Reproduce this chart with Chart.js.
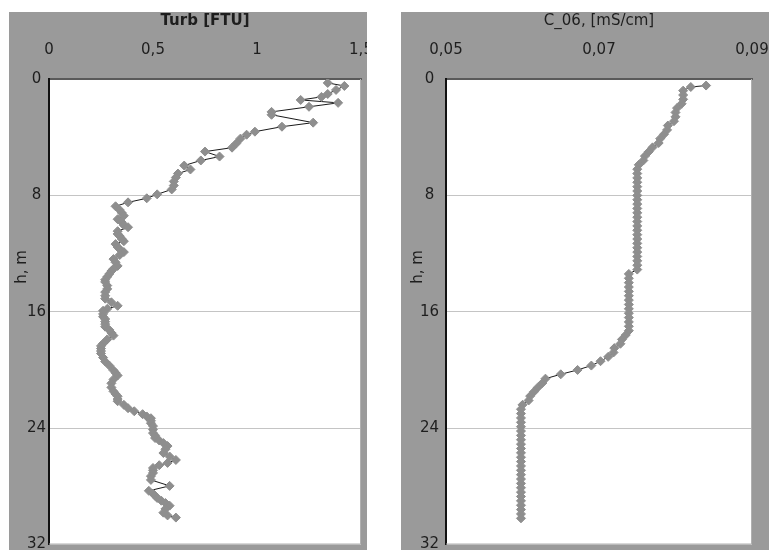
<!DOCTYPE html>
<html>
<head>
<meta charset="utf-8">
<script src="https://cdn.jsdelivr.net/npm/chart.js@4.4.0/dist/chart.umd.min.js"></script>
<style>
    body { margin: 0; background: #ffffff; width: 769px; height: 550px; overflow: hidden; }
    canvas { position: absolute; }
    #turbChart { left: 9px; top: 12px; }
    #condChart { left: 401px; top: 12px; }
</style>
</head>
<body>
<canvas id="turbChart" width="358" height="538"></canvas>
<canvas id="condChart" width="368" height="538"></canvas>
<script>
// ── Data ──────────────────────────────────────────────────────
const depthTicks = [0, 8, 16, 24, 32];
const turbTicks = [0, 0.5, 1, 1.5];
const condTicks = [0.05, 0.07, 0.09];

const turbDepth = [
    0.27, 0.48, 0.75, 1.03, 1.23, 1.44, 1.64, 1.91, 2.26, 2.46,
    3.00, 3.28, 3.62, 3.83, 4.10, 4.44, 4.72, 4.99, 5.33, 5.60,
    5.95, 6.22, 6.50, 6.77, 7.04, 7.32, 7.59, 7.93, 8.20, 8.48,
    8.75, 9.00, 9.20, 9.40, 9.64, 9.85, 10.05, 10.19, 10.46, 10.65,
    10.80, 11.00, 11.15, 11.35, 11.55, 11.69, 11.90, 12.10, 12.38, 12.60,
    12.85, 13.05, 13.20, 13.40, 13.60, 13.80, 13.95, 14.20, 14.43, 14.65,
    14.90, 15.10, 15.35, 15.59, 15.80, 15.93, 16.15, 16.34, 16.50, 16.68,
    16.85, 17.03, 17.25, 17.45, 17.64, 17.90, 18.19, 18.35, 18.53, 18.70,
    18.87, 19.15, 19.42, 19.70, 20.03, 20.20, 20.38, 20.65, 20.92, 21.20,
    21.47, 21.65, 21.81, 22.00, 22.15, 22.40, 22.63, 22.84, 23.04, 23.20,
    23.32, 23.50, 23.66, 23.86, 24.10, 24.34, 24.50, 24.68, 24.85, 25.03,
    25.23, 25.45, 25.71, 25.95, 26.19, 26.39, 26.55, 26.74, 26.90, 27.08,
    27.30, 27.56, 27.97, 28.31, 28.50, 28.65, 28.80, 28.99, 29.15, 29.33,
    29.55, 29.81, 30.00, 30.15
];
const turbValue = [
    1.34, 1.42, 1.38, 1.34, 1.31, 1.21, 1.39, 1.25, 1.07, 1.07,
    1.27, 1.12, 0.99, 0.95, 0.92, 0.90, 0.88, 0.75, 0.82, 0.73,
    0.65, 0.68, 0.62, 0.61, 0.60, 0.60, 0.59, 0.52, 0.47, 0.38,
    0.32, 0.34, 0.35, 0.36, 0.33, 0.35, 0.36, 0.38, 0.33, 0.33,
    0.34, 0.35, 0.36, 0.32, 0.33, 0.34, 0.36, 0.34, 0.31, 0.32,
    0.33, 0.31, 0.30, 0.29, 0.28, 0.27, 0.27, 0.28, 0.28, 0.27,
    0.27, 0.27, 0.30, 0.33, 0.28, 0.26, 0.26, 0.26, 0.27, 0.27,
    0.27, 0.27, 0.29, 0.30, 0.31, 0.28, 0.26, 0.25, 0.25, 0.25,
    0.25, 0.26, 0.27, 0.29, 0.31, 0.32, 0.33, 0.31, 0.30, 0.30,
    0.31, 0.32, 0.33, 0.33, 0.33, 0.36, 0.38, 0.41, 0.45, 0.47,
    0.49, 0.49, 0.49, 0.50, 0.50, 0.50, 0.51, 0.51, 0.53, 0.55,
    0.57, 0.56, 0.55, 0.58, 0.61, 0.57, 0.53, 0.50, 0.50, 0.50,
    0.49, 0.49, 0.58, 0.48, 0.50, 0.51, 0.52, 0.54, 0.56, 0.58,
    0.56, 0.55, 0.57, 0.61
];

const condDepth = [
    0.45, 0.55, 0.8, 1.1, 1.4, 1.7, 2.0, 2.3, 2.6, 2.9,
    3.2, 3.5, 3.8, 4.1, 4.4, 4.7, 5.0, 5.3, 5.6, 5.9,
    6.2, 6.5, 6.8, 7.1, 7.4, 7.7, 8.0, 8.3, 8.6, 8.9,
    9.2, 9.5, 9.8, 10.1, 10.4, 10.7, 11.0, 11.3, 11.6, 11.9,
    12.2, 12.5, 12.8, 13.1, 13.4, 13.7, 14.0, 14.3, 14.6, 14.9,
    15.2, 15.5, 15.8, 16.1, 16.4, 16.7, 17.0, 17.3, 17.6, 17.9,
    18.2, 18.5, 18.8, 19.1, 19.4, 19.7, 20.0, 20.3, 20.6, 20.9,
    21.2, 21.5, 21.8, 22.1, 22.4, 22.7, 23.0, 23.3, 23.6, 23.9,
    24.2, 24.5, 24.8, 25.1, 25.4, 25.7, 26.0, 26.3, 26.6, 26.9,
    27.2, 27.5, 27.8, 28.1, 28.4, 28.7, 29.0, 29.3, 29.6, 29.9,
    30.2
];
const condValue = [
    0.0840, 0.0820, 0.0810, 0.0810, 0.0810, 0.0808, 0.0802, 0.0800, 0.0800, 0.0798,
    0.0790, 0.0789, 0.0785, 0.0780, 0.0778, 0.0770, 0.0765, 0.0760, 0.0758, 0.0752,
    0.0750, 0.0750, 0.0750, 0.0750, 0.0750, 0.0750, 0.0750, 0.0750, 0.0750, 0.0750,
    0.0750, 0.0750, 0.0750, 0.0750, 0.0750, 0.0750, 0.0750, 0.0750, 0.0750, 0.0750,
    0.0750, 0.0750, 0.0750, 0.0750, 0.0739, 0.0739, 0.0739, 0.0739, 0.0739, 0.0739,
    0.0739, 0.0739, 0.0739, 0.0739, 0.0739, 0.0739, 0.0739, 0.0739, 0.0735, 0.0730,
    0.0728, 0.0720, 0.0719, 0.0712, 0.0702, 0.0690, 0.0672, 0.0650, 0.0630, 0.0626,
    0.0620, 0.0615, 0.0610, 0.0608, 0.0600, 0.0598, 0.0598, 0.0598, 0.0598, 0.0598,
    0.0598, 0.0598, 0.0598, 0.0598, 0.0598, 0.0598, 0.0598, 0.0598, 0.0598, 0.0598,
    0.0598, 0.0598, 0.0598, 0.0598, 0.0598, 0.0598, 0.0598, 0.0598, 0.0598, 0.0598,
    0.0598
];

// ── Helpers ───────────────────────────────────────────────────
const FONT = "'DejaVu Sans', sans-serif";
const comma = v => String(v).replace('.', ',');

// gray panel, white plot area, frame and the "h, m" label
const panelPlugin = {
    id: 'panel',
    beforeDraw(chart) {
        const { ctx, chartArea: a } = chart;
        ctx.save();
        ctx.fillStyle = '#9a9a9a';
        ctx.fillRect(0, 0, chart.width, chart.height);
        ctx.fillStyle = '#ffffff';
        ctx.fillRect(a.left, a.top, a.right - a.left, a.bottom - a.top);
        ctx.restore();
    },
    afterDraw(chart, args, opts) {
        const { ctx, chartArea: a } = chart;
        ctx.save();
        ctx.strokeStyle = '#b0b0b0';
        ctx.lineWidth = 1;
        ctx.beginPath();
        ctx.moveTo(a.right - 0.5, a.top);
        ctx.lineTo(a.right - 0.5, a.bottom - 0.5);
        ctx.lineTo(a.left, a.bottom - 0.5);
        ctx.stroke();
        ctx.translate(opts.labelX, opts.labelY);
        ctx.rotate(-Math.PI / 2);
        ctx.fillStyle = '#1e1e1e';
        ctx.font = '15px ' + FONT;
        ctx.textAlign = 'center';
        ctx.textBaseline = 'middle';
        ctx.fillText('h, m', 0, 0);
        ctx.restore();
    }
};

function makeProfile(canvasId, depth, value, ticks, title, bold, yWidth, yPad, padRight, labelX) {
    const points = depth.map((d, i) => ({ x: value[i], y: d }));
    return new Chart(document.getElementById(canvasId), {
        type: 'scatter',
        data: {
            datasets: [{
                data: points,
                showLine: true,
                borderColor: '#1a1a1a', borderWidth: 1,
                pointStyle: 'rectRot', pointRadius: 4.5,
                pointBackgroundColor: '#8e8e8e', pointBorderColor: '#8e8e8e', pointBorderWidth: 1
            }]
        },
        options: {
            responsive: false, animation: false,
            layout: { padding: { top: 0, left: 0, right: padRight, bottom: 3 } },
            plugins: {
                legend: { display: false }, tooltip: { enabled: false },
                panel: { labelX: labelX, labelY: 255 }
            },
            scales: {
                x: {
                    type: 'linear', position: 'top',
                    min: ticks[0], max: ticks[ticks.length - 1],
                    afterBuildTicks: s => { s.ticks = ticks.map(v => ({ value: v })); },
                    afterFit: s => { s.height = 67; s.paddingLeft = 0; s.paddingRight = 0; },
                    grid: { display: false, drawTicks: false },
                    border: { display: true, color: '#5a5a5a', width: 2 },
                    ticks: {
                        color: '#1e1e1e', padding: 20, maxRotation: 0,
                        font: { family: FONT, size: 15 },
                        callback: v => comma(v)
                    },
                    title: {
                        display: true, text: title, color: '#1e1e1e',
                        padding: { top: 0, bottom: 0 },
                        font: { family: FONT, size: 15, weight: bold ? 'bold' : 'normal' }
                    }
                },
                y: {
                    type: 'linear', reverse: true,
                    min: 0, max: 32,
                    afterBuildTicks: s => { s.ticks = depthTicks.map(v => ({ value: v })); },
                    afterFit: s => { s.width = yWidth; s.paddingTop = 0; s.paddingBottom = 0; },
                    grid: { color: '#c4c4c4', lineWidth: 1, drawTicks: false },
                    border: { display: true, color: '#111111', width: 2 },
                    ticks: {
                        color: '#1e1e1e', padding: yPad, crossAlign: 'center',
                        font: { family: FONT, size: 15 }
                    }
                }
            }
        },
        plugins: [panelPlugin]
    });
}

// ── Charts ────────────────────────────────────────────────────
makeProfile('turbChart', turbDepth, turbValue, turbTicks, 'Turb [FTU]', true, 40, 3, 6, 13);
makeProfile('condChart', condDepth, condValue, condTicks, 'C_06, [mS/cm]', false, 45, 7, 17, 17);
</script>
</body>
</html>
